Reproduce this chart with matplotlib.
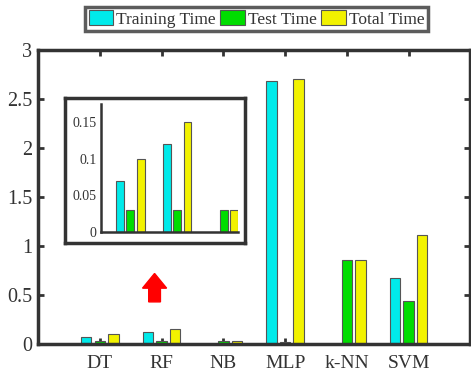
import numpy as np
import matplotlib.pyplot as plt
from matplotlib.patches import FancyArrow

plt.rcParams['font.family'] = ['Liberation Serif', 'DejaVu Serif']

# data
models = ['DT', 'RF', 'NB', 'MLP', 'k-NN', 'SVM']
train_time = [0.07, 0.12, 0.0, 2.68, 0.0, 0.67]
test_time = [0.03, 0.03, 0.03, 0.02, 0.86, 0.44]
total_time = [0.10, 0.15, 0.03, 2.70, 0.86, 1.11]
inset_n = 3  # DT, RF, NB zoomed in

series = [('Training Time', train_time, '#00eaea'),
          ('Test Time', test_time, '#00dd00'),
          ('Total Time', total_time, '#f2f200')]
offsets = [-0.22, 0.0, 0.22]
bar_w = 0.17
dark = '#333333'

fig = plt.figure(figsize=(4.71, 3.73), dpi=100)
ax = fig.add_axes([0.0807, 0.0777, 0.918, 0.788])

x = np.arange(1, len(models) + 1)
handles = []
for (name, vals, col), off in zip(series, offsets):
    h = ax.bar(x + off, vals, bar_w, color=col, edgecolor='#555555', linewidth=0.8, label=name)
    handles.append(h)

ax.set_xlim(0, 7)
ax.set_ylim(0, 3)
ax.set_xticks(x)
ax.set_xticklabels(models, fontsize=14, color=dark)
ax.set_yticks([0, 0.5, 1, 1.5, 2, 2.5, 3])
ax.set_yticklabels(['0', '0.5', '1', '1.5', '2', '2.5', '3'], fontsize=14.5, color=dark)
ax.tick_params(direction='in', length=4, width=2, color=dark, top=True, right=True, pad=4)
ax.tick_params(axis='x', pad=8)
ax.set_axisbelow(True)
for s in ax.spines.values():
    s.set_linewidth(2.5)
    s.set_color(dark)

# red arrow pointing up to the inset
ax.add_patch(FancyArrow(1.887, 0.43, 0, 0.29, width=0.19, head_width=0.39,
                        head_length=0.15, length_includes_head=True,
                        color='#ff0000', zorder=3))

# inset frame
frame = fig.add_axes([0.138, 0.3485, 0.382, 0.389])
frame.set_xticks([])
frame.set_yticks([])
frame.patch.set_facecolor('white')
for s in frame.spines.values():
    s.set_linewidth(2.5)
    s.set_color(dark)

# inset axes
ins = fig.add_axes([0.2144, 0.378, 0.291, 0.343])
xi = np.arange(1, inset_n + 1)
for (name, vals, col), off in zip(series, offsets):
    ins.bar(xi + off, vals[:inset_n], bar_w, color=col, edgecolor='#555555', linewidth=0.8)
ins.set_xlim(0.37, 3.3)
ins.set_ylim(0, 0.175)
ins.set_xticks([])
ins.set_yticks([0, 0.05, 0.1, 0.15])
ins.set_yticklabels(['0', '0.05', '0.1', '0.15'], fontsize=10, color=dark)
ins.tick_params(length=0, pad=3)
ins.spines['top'].set_visible(False)
ins.spines['right'].set_visible(False)
for s in ['left', 'bottom']:
    ins.spines[s].set_linewidth(1.8)
    ins.spines[s].set_color(dark)
ins.patch.set_alpha(0)

leg = fig.legend(handles=handles, loc='center', bbox_to_anchor=(0.545, 0.949), ncol=3,
                 fontsize=12.5, frameon=True, fancybox=False, handlelength=1.4,
                 handleheight=0.9, handletextpad=0.2, columnspacing=0.25,
                 borderpad=0.2, borderaxespad=0)
leg.get_frame().set_edgecolor(dark)
leg.get_frame().set_linewidth(2.5)
for t in leg.get_texts():
    t.set_color(dark)

fig.savefig('out.png', dpi=100)
